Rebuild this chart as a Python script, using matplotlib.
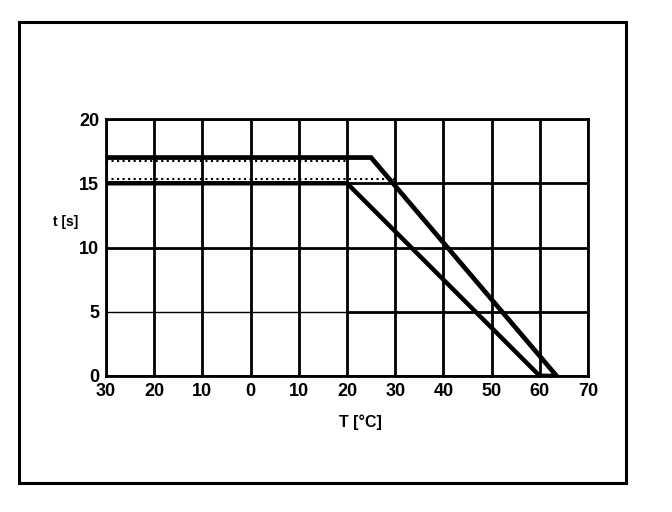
import matplotlib
matplotlib.use("Agg")
import matplotlib.pyplot as plt
from matplotlib.patches import Rectangle

# Data
x_ticks = [-30, -20, -10, 0, 10, 20, 30, 40, 50, 60, 70]
x_tick_labels = ["30", "20", "10", "0", "10", "20", "30", "40", "50", "60", "70"]
y_ticks = [0, 5, 10, 15, 20]
y_tick_labels = ["0", "5", "10", "15", "20"]

upper_T = [-30, 25, 63.5, 60]
upper_t = [17, 17, 0, 0]
lower_T = [-30, 20, 60]
lower_t = [15, 15, 0]

# faint dotted scan artefacts between the two plateaus
dot_top_T = [-30, 20]
dot_top_t = [16.7, 16.7]
dot_bot_T = [-30, 30]
dot_bot_t = [15.3, 15.3]

plt.rcParams['font.family'] = ['Liberation Sans', 'DejaVu Sans']

fig = plt.figure(figsize=(6.72, 5.12), dpi=100)
ax = fig.add_axes([106/672, 1 - 376/512, (588-106)/672, (376-119)/512])

# outer frame
fig.patches.append(Rectangle((19/672, 1 - 483/512), (626-19)/672, (483-22)/512,
                             transform=fig.transFigure, fill=False,
                             edgecolor='black', linewidth=2.2))

ax.set_xlim(-30, 70)
ax.set_ylim(0, 20)

for xv in x_ticks:
    ax.axvline(xv, color='black', linewidth=2.0, zorder=1)
for yv in y_ticks:
    if yv == 5:
        ax.plot([-30, 20], [5, 5], color='black', linewidth=1.0, zorder=1)
        ax.plot([20, 70], [5, 5], color='black', linewidth=2.0, zorder=1)
    else:
        ax.axhline(yv, color='black', linewidth=2.0, zorder=1)

ax.plot(dot_top_T, dot_top_t, color='black', linestyle=':', linewidth=1.5, zorder=2)
ax.plot(dot_bot_T, dot_bot_t, color='black', linestyle=':', linewidth=1.5, zorder=2)

ax.plot(upper_T, upper_t, color='black', linewidth=3.4, zorder=3, solid_joinstyle='miter')
ax.plot(lower_T, lower_t, color='black', linewidth=3.2, zorder=3, solid_joinstyle='miter')

for s in ax.spines.values():
    s.set_linewidth(2.0)

ax.set_xticks(x_ticks)
ax.set_xticklabels(x_tick_labels, fontsize=13, fontweight='bold')
ax.set_yticks(y_ticks)
ax.set_yticklabels(y_tick_labels, fontsize=13, fontweight='bold')
ax.tick_params(length=0, pad=5)

fig.text(66/672, 1 - 222/512, "t [s]", fontsize=10, fontweight='bold',
         ha='center', va='center')
fig.text(360/672, 1 - 422/512, "T [°C]", fontsize=11.5, fontweight='bold',
         ha='center', va='center')

fig.savefig("out.png", dpi=100)
